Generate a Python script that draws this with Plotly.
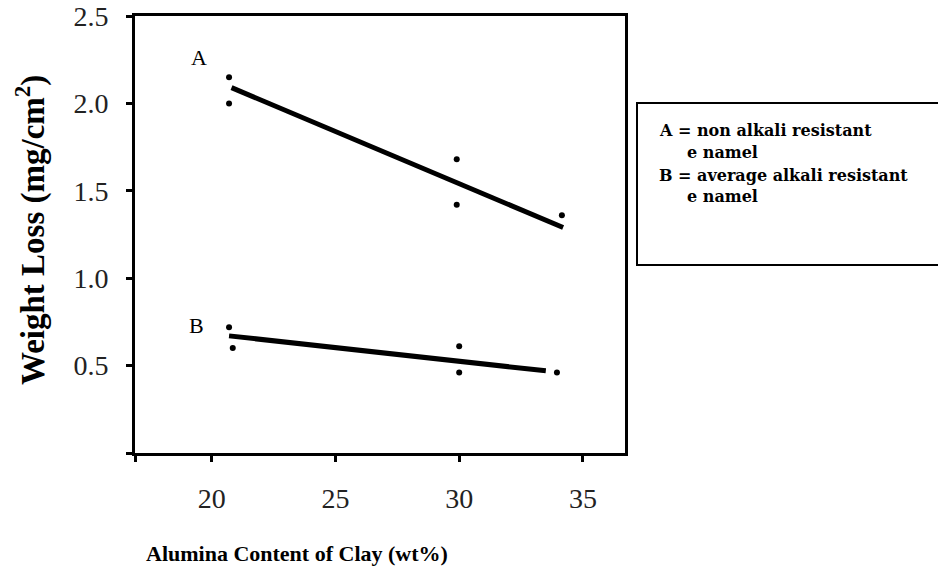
import plotly.graph_objects as go

# Data
a_x = [20.7, 20.7, 29.9, 29.9, 34.15]
a_y = [2.15, 2.00, 1.68, 1.42, 1.36]
b_x = [20.7, 20.85, 30.0, 30.0, 33.95]
b_y = [0.72, 0.60, 0.61, 0.46, 0.46]
a_fit_x = [20.8, 34.2]
a_fit_y = [2.09, 1.29]
b_fit_x = [20.7, 33.5]
b_fit_y = [0.67, 0.47]
x_range = [16.9, 36.7]
y_range = [0, 2.5]
x_ticks = [20, 25, 30, 35]
y_ticks = [0.5, 1.0, 1.5, 2.0, 2.5]
y_tick_labels = ["0.5", "1.0", "1.5", "2.0", "2.5"]
legend_lines = ["A = non alkali resistant", "e namel", "B = average alkali resistant", "e namel"]

SERIF = "Liberation Serif, Times New Roman, serif"

fig = go.Figure()
for fx, fy in [(a_fit_x, a_fit_y), (b_fit_x, b_fit_y)]:
    fig.add_trace(go.Scatter(x=fx, y=fy, mode="lines",
                             line=dict(color="black", width=5), showlegend=False))
for px, py in [(a_x, a_y), (b_x, b_y)]:
    fig.add_trace(go.Scatter(x=px, y=py, mode="markers",
                             marker=dict(color="black", size=6), showlegend=False))

W, H = 938, 580
L, T = 135, 16
R, B = W - 625, H - 453
pw, ph = W - L - R, H - T - B

def xp(px):  # page pixel -> paper
    return (px - L) / pw

def yp(py):
    return (H - B - py) / ph

corner_tick = dict(ticks="outside", ticklen=6, tickwidth=3, tickcolor="black")

fig.update_layout(
    width=W, height=H,
    margin=dict(l=L, r=R, t=T, b=B, autoexpand=False),
    paper_bgcolor="white", plot_bgcolor="white",
    font=dict(family=SERIF, color="black"),
    xaxis=dict(range=x_range, tickvals=x_ticks, ticks="outside", ticklen=6,
               tickwidth=3, tickcolor="black", showline=True, linewidth=3,
               linecolor="black", mirror=True, showgrid=False, zeroline=False,
               automargin=False, ticklabeloverflow="allow",
               minor=dict(tickvals=[x_range[0]], **corner_tick),
               tickfont=dict(size=28, color="#222"), ticklabelstandoff=12),
    yaxis=dict(range=y_range, tickvals=y_ticks, ticktext=y_tick_labels,
               ticks="outside", ticklen=6, tickwidth=3, tickcolor="black",
               showline=True, linewidth=3, linecolor="black", mirror=True,
               showgrid=False, zeroline=False, automargin=False,
               ticklabeloverflow="allow",
               minor=dict(tickvals=[y_range[0]], **corner_tick),
               tickfont=dict(size=28, color="#222"), ticklabelstandoff=12),
)

# Series labels
fig.add_annotation(x=19.5, y=2.26, text="A", showarrow=False,
                   font=dict(size=22, family=SERIF))
fig.add_annotation(x=19.4, y=0.73, text="B", showarrow=False,
                   font=dict(size=22, family=SERIF))

# Axis titles
fig.add_annotation(xref="paper", yref="paper", x=xp(297), y=yp(553),
                   xanchor="center", yanchor="middle",
                   text="<b>Alumina Content of Clay (wt%)</b>", showarrow=False,
                   font=dict(size=22, family=SERIF))
fig.add_annotation(xref="paper", yref="paper", x=xp(30), y=yp(230), textangle=-90,
                   xanchor="center", yanchor="middle",
                   text="<b>Weight Loss (mg/cm<sup>2</sup>)</b>", showarrow=False,
                   font=dict(size=33, family=SERIF))

# Legend box
fig.add_shape(type="rect", xref="paper", yref="paper",
              x0=xp(637), x1=xp(945), y0=yp(265), y1=yp(103),
              line=dict(color="black", width=2), fillcolor="rgba(0,0,0,0)")
line_pos = [(657, 130), (685, 152), (657, 175), (685, 196)]
for txt, (lx, ly) in zip(legend_lines, line_pos):
    fig.add_annotation(xref="paper", yref="paper", x=xp(lx), y=yp(ly),
                       xanchor="left", yanchor="middle", text="<b>" + txt + "</b>",
                       showarrow=False, font=dict(size=16, family="DejaVu Serif"))

fig.write_html("out.html",
               config={"displayModeBar": False},
               post_script="document.body.style.margin='0px';"
                           "document.body.style.overflow='hidden';")
